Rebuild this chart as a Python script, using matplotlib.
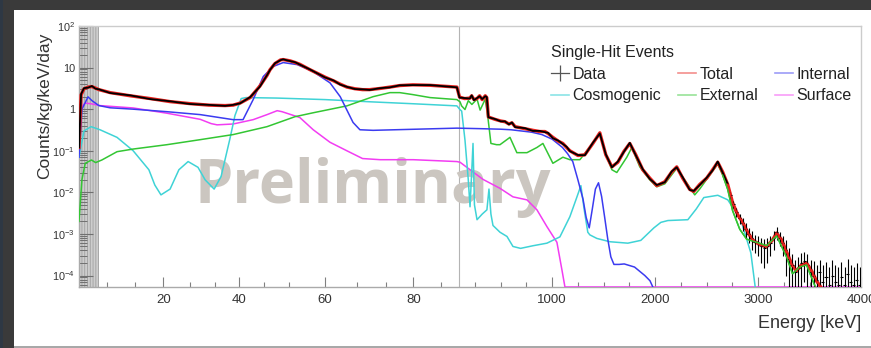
import numpy as np
import matplotlib
matplotlib.use('Agg')
import matplotlib.pyplot as plt
from matplotlib.lines import Line2D
from matplotlib.patches import Rectangle

plt.rcParams['font.family'] = ['Liberation Sans', 'DejaVu Sans']
plt.rcParams['mathtext.fontset'] = 'custom'
plt.rcParams['mathtext.rm'] = 'Liberation Sans'
plt.rcParams['mathtext.it'] = 'Liberation Sans:italic'
plt.rcParams['hatch.linewidth'] = 0.6

# ---- spectra (energy in keV, counts/kg/keV/day) ----
spec_e = [0, 0.5, 1.2, 2.2, 3.1, 4.0, 4.8, 7.5, 12.2, 16.9, 21.7, 26.7, 31.7, 36.1, 38.3,
          40.2, 42.9, 45.5, 47.4, 48.2, 49.5, 51.0, 51.7, 53.5, 54.4, 55.3, 57.2, 60.0,
          61.8, 63.2, 64.6, 66.3, 68.0, 69.6, 72.0, 74.3, 76.7, 79.9, 84.1, 89.7,
          100, 150, 200, 218, 240, 270, 295, 320, 350, 365, 380, 444, 500, 541, 580, 609,
          640, 735, 813, 880, 930, 960, 1007, 1060, 1104, 1140, 1172, 1250, 1317, 1395,
          1463, 1521, 1580, 1638, 1696, 1754, 1812, 1880, 1948, 2016, 2094, 2162, 2210,
          2268, 2336, 2375, 2433, 2501, 2559, 2608, 2656, 2705, 2753, 2802, 2850, 2899,
          2947, 3015, 3083, 3141, 3180, 3229, 3277, 3335, 3374, 3423, 3471, 3520, 3568,
          3617, 3640]
total_v = [0.12, 2.2, 3.1, 3.4, 3.5, 3.2, 2.95, 2.5, 2.1, 1.8, 1.52, 1.36, 1.25, 1.22, 1.25,
           1.4, 1.9, 3.6, 6.5, 8.9, 12.5, 15.3, 15.6, 14.5, 13.3, 12.0, 8.9, 5.9,
           4.8, 4.0, 3.4, 3.1, 2.95, 2.95, 3.15, 3.4, 3.7, 3.85, 3.75, 3.4,
           1.95, 1.8, 1.85, 2.1, 1.7, 1.8, 2.1, 1.7, 2.1, 1.9, 0.65, 0.57, 0.52, 0.5, 0.44, 0.47,
           0.38, 0.34, 0.31, 0.29, 0.29, 0.26, 0.21, 0.17, 0.15, 0.12, 0.10, 0.077, 0.08, 0.15,
           0.27, 0.08, 0.041, 0.053, 0.096, 0.15, 0.08, 0.035, 0.022, 0.0145, 0.018, 0.031, 0.041,
           0.022, 0.0118, 0.0105, 0.0155, 0.022, 0.035, 0.053, 0.031, 0.0155, 0.0056, 0.0029,
           0.0019, 0.0011, 0.00072, 0.00055, 0.00049, 0.00072, 0.00105, 0.00072, 0.00037,
           0.00017, 0.00013, 0.00018, 0.0002, 0.00013, 7.4e-5, 5.0e-5, 3e-5]
data_v = [0.12, 2.3, 3.2, 3.3, 3.6, 3.1, 3.0, 2.45, 2.15, 1.75, 1.55, 1.33, 1.27, 1.2, 1.27,
          1.38, 1.95, 3.5, 6.6, 8.8, 12.7, 15.1, 15.8, 14.3, 13.5, 11.8, 9.0, 5.8,
          4.9, 3.9, 3.45, 3.05, 3.0, 2.9, 3.2, 3.35, 3.75, 3.8, 3.8, 3.35,
          1.9, 1.85, 1.8, 2.15, 1.65, 1.85, 2.05, 1.75, 2.05, 1.95, 0.64, 0.58, 0.51, 0.51, 0.43, 0.48,
          0.37, 0.35, 0.30, 0.30, 0.28, 0.27, 0.20, 0.175, 0.145, 0.125, 0.098, 0.079, 0.078, 0.155,
          0.26, 0.082, 0.040, 0.055, 0.094, 0.155, 0.078, 0.036, 0.021, 0.015, 0.0175, 0.032, 0.040,
          0.023, 0.0115, 0.0108, 0.015, 0.0225, 0.034, 0.055, 0.030, 0.016]

tail_e = [2730, 2760, 2790, 2820, 2850, 2880, 2910, 2940, 2970, 3000, 3030, 3060, 3090, 3120,
          3150, 3180, 3210, 3240, 3270, 3300, 3330, 3360, 3390, 3420, 3450, 3480, 3510, 3540,
          3570, 3600, 3630, 3660, 3690, 3720, 3750, 3780, 3810, 3840, 3870, 3900, 3930, 3960, 3990]
tail_v = [0.0085, 0.0052, 0.0033, 0.0024, 0.0018, 0.0013, 0.0010, 0.0008, 0.00065, 0.0006,
          0.0005, 0.00045, 0.0005, 0.0006, 0.0008, 0.0011, 0.0008, 0.0006, 0.0004, 0.00025,
          0.00018, 0.00012, 0.00015, 0.0002, 0.00022, 0.00018, 0.00012, 0.0001, 8e-5, 0.00012,
          7e-5, 9e-5, 6e-5, 0.0001, 7e-5, 6e-5, 9e-5, 6e-5, 0.00011, 7e-5, 6e-5, 8e-5, 6e-5]
tail_err = [0.0015, 0.001, 0.0008, 0.0007, 0.0006, 0.0005, 0.0004, 0.0004, 0.0003, 0.0003,
            0.0003, 0.0003, 0.0003, 0.0003, 0.0004, 0.0004, 0.0003, 0.0003, 0.0003, 0.0002,
            0.00015, 0.00012, 0.00013, 0.00015, 0.00015, 0.00015, 0.00012, 0.00012, 0.0001, 0.00012,
            0.00011, 0.00012, 0.0001, 0.00013, 0.00011, 0.0001, 0.00012, 0.0001, 0.00014, 0.00011,
            0.0001, 0.00012, 0.0001]

internal_e = [0, 0.72, 1.44, 2.17, 3.13, 4.8, 7.45, 12.9, 20.9, 29.4, 38.3, 41.0, 43.7, 46.4,
              49.0, 51.7, 54.8, 57.8, 61.05, 63.2, 65.9, 67.4, 70.4, 89.7,
              300, 500, 600, 800, 900, 1000, 1100, 1150, 1200, 1250, 1300, 1330, 1360, 1390,
              1420, 1450, 1480, 1510, 1540, 1570, 1600, 1650, 1700, 1800, 1900, 1950, 2000]
internal_v = [0.07, 1.0, 1.4, 1.98, 1.6, 1.22, 1.08, 1.0, 0.87, 0.74, 0.56, 0.56, 1.7, 6.1,
              10.6, 13.2, 11.8, 8.0, 4.3, 2.0, 0.48, 0.32, 0.31, 0.35,
              0.34, 0.33, 0.32, 0.28, 0.245, 0.19, 0.12, 0.085, 0.055, 0.02, 0.0068, 0.0025, 0.0014,
              0.004, 0.012, 0.017, 0.008, 0.0025, 0.00075, 0.00028, 0.000185, 0.000185, 0.00019,
              0.00016, 0.0001, 7.5e-5, 4e-5]

cosmo_e = [0, 1.2, 2.9, 5.06, 9.1, 12.9, 16.6, 18.0, 19.45, 21.7, 23.9, 26.2, 28.8, 30.7,
           33.1, 35.0, 37.4, 38.8, 40.5, 41.8, 50.0, 60.0, 70.0, 80.0, 89.7,
           104, 121, 153, 185, 202, 218, 231, 245, 270, 320, 366, 386, 405, 425, 493, 561,
           619, 693, 813, 949, 1075, 1172, 1240, 1279, 1310, 1346, 1366, 1434, 1560, 1735,
           1861, 1988, 2056, 2124, 2318, 2400, 2473, 2609, 2706, 2832, 2930, 2985]
cosmo_v = [0.07, 0.3, 0.38, 0.32, 0.21, 0.1, 0.035, 0.015, 0.0087, 0.012, 0.035, 0.055, 0.04,
           0.02, 0.012, 0.024, 0.19, 0.7, 1.8, 1.9, 1.85, 1.7, 1.5, 1.35, 1.2,
           0.98, 0.9, 0.18, 0.02, 0.0045, 0.03, 0.15, 0.005, 0.0022, 0.003, 0.0038, 0.012, 0.003,
           0.0016, 0.0011, 0.00087, 0.0005, 0.00045, 0.00052, 0.0006, 0.00085, 0.0026, 0.0077,
           0.0145, 0.004, 0.0011, 0.00095, 0.00078, 0.00065, 0.0006, 0.0007, 0.0014, 0.0019,
           0.0021, 0.0022, 0.004, 0.0075, 0.0085, 0.0066, 0.0022, 0.00035, 3e-5]

external_e = [0, 0.7, 1.5, 3.0, 4.0, 5.5, 9.1, 12.9, 20.9, 29.4, 38.3, 47.4, 54.4, 57.8, 64.6,
              70.4, 74.3, 76.7, 79.9, 84.1, 89.7,
              105, 120, 153, 185, 220, 270, 300, 350, 376, 405, 460, 493, 590, 657, 755, 852,
              910, 1007, 1104, 1172, 1269, 1395, 1463, 1531, 1580, 1628, 1725, 1774, 1851, 1948,
              2016, 2094, 2210, 2385, 2433, 2608, 2656, 2705, 2753, 2822, 2889, 2986, 3083, 3180,
              3277, 3335, 3403, 3471, 3529, 3578]
external_v = [0.002, 0.02, 0.05, 0.06, 0.052, 0.06, 0.095, 0.11, 0.14, 0.185, 0.245, 0.38, 0.66,
              0.82, 1.2, 2.0, 2.5, 2.5, 2.24, 1.9, 1.7,
              1.5, 1.2, 0.98, 1.6, 1.3, 1.75, 0.95, 1.75, 0.62, 0.15, 0.14, 0.14, 0.21, 0.09, 0.09,
              0.12, 0.15, 0.05, 0.07, 0.061, 0.061, 0.15, 0.27, 0.07, 0.035, 0.03, 0.07, 0.12, 0.041,
              0.02, 0.0136, 0.016, 0.038, 0.0087, 0.012, 0.048, 0.026, 0.0118, 0.0036, 0.0013,
              0.00075, 0.00063, 0.00052, 0.0009, 0.00028, 0.00011, 0.00016, 0.00018, 7.8e-5, 4e-5]

surface_e = [0, 0.72, 1.44, 2.9, 5.06, 12.9, 20.9, 29.4, 32.3, 33.9, 38.3, 43.7, 47.4, 50.1,
             51.4, 55.3, 57.8, 61.05, 64.6, 68.0, 72.0, 80.0, 89.7,
             105, 202, 328, 493, 619, 755, 852, 949, 1046, 1094, 1124, 4000]
surface_v = [0.3, 1.15, 1.4, 1.35, 1.22, 1.07, 0.8, 0.57, 0.45, 0.42, 0.44, 0.56, 0.74, 0.92,
             0.87, 0.63, 0.32, 0.16, 0.1, 0.065, 0.061, 0.061, 0.055,
             0.053, 0.035, 0.0205, 0.0125, 0.0078, 0.0066, 0.0038, 0.0015, 0.00063, 0.00014,
             5.3e-5, 5.3e-5]

major_ticks = [20, 40, 60, 80, 1000, 2000, 3000, 4000]
minor_ticks = [6.67, 13.33, 26.67, 33.33, 46.67, 53.33, 66.67, 73.33, 86.67,
               250, 500, 750, 1250, 1500, 1750, 2250, 2500, 2750, 3250, 3500, 3750]
y_ticks = [1e-4, 1e-3, 1e-2, 1e-1, 1, 10, 100]
y_labels = [r'$10^{-4}$', r'$10^{-3}$', r'$10^{-2}$', r'$10^{-1}$', '1', '10', r'$10^{2}$']

# split energy axis: 0-90 keV expanded, 90-4000 keV compressed
EA = np.array([0, 6.67, 13.33, 20, 26.67, 33.33, 40, 46.67, 53.33, 60, 66.67, 73.33,
               80, 86.67, 90, 4000])
PA = np.array([79, 106.7, 135, 163.3, 190, 215, 239.3, 264.3, 289.3, 325, 356.7, 386,
               413.3, 440.7, 458.5, 861])


def fwd(e):
    return np.interp(e, EA, PA)


def inv(p):
    return np.interp(p, PA, EA)


fig = plt.figure(figsize=(8.71, 3.48), dpi=100)
ax = fig.add_axes([79 / 871, 1 - 287 / 348, 782 / 871, 261 / 348])
ax.set_xscale('function', functions=(fwd, inv))
ax.set_yscale('log')
ax.set_xlim(0, 4000)
ax.set_ylim(5.3e-5, 100)

ax.axvspan(0, 4.8, facecolor='#cdcdcd', edgecolor='#a0a0a0', hatch='||||||', lw=0, zorder=0.5)
ax.axvline(90, color='#b4b4b4', lw=0.8, zorder=0.8)

# watermark under the curves
ax.text(372.5 / 871, 1 - 203 / 348, 'Preliminary', transform=fig.transFigure,
        family='Open Sans', weight='bold', fontsize=44, color='#cbc6c0',
        ha='center', va='baseline', zorder=1)

lw = 1.1
ax.plot(surface_e, surface_v, color='#f23cf2', lw=lw, zorder=3)
ax.plot(cosmo_e, cosmo_v, color='#3fd3d6', lw=lw, zorder=3)
ax.plot(external_e, external_v, color='#33c633', lw=lw, zorder=3)
ax.plot(internal_e, internal_v, color='#3b3bf0', lw=lw, zorder=3)
ax.plot(spec_e, total_v, color='#e8201c', lw=2.4, zorder=4)
ax.plot(spec_e[:len(data_v)], data_v, color='black', lw=1.3, zorder=5)
ax.errorbar(tail_e, tail_v, yerr=tail_err, xerr=15, fmt='none', ecolor='black',
            elinewidth=0.8, zorder=5)
ax.plot(spec_e[len(data_v) - 1:], total_v[len(data_v) - 1:], color='#e8201c', lw=1.2, zorder=6)
ax.plot(external_e[-14:], external_v[-14:], color='#33c633', lw=1.0, zorder=6)

ax.set_xticks(major_ticks)
ax.set_xticklabels([str(t) for t in major_ticks])
ax.set_xticks(minor_ticks, minor=True)
ax.set_yticks(y_ticks)
ax.set_yticklabels(y_labels)
ax.yaxis.set_minor_locator(matplotlib.ticker.LogLocator(base=10, subs=np.arange(2, 10), numticks=20))
ax.yaxis.set_minor_formatter(matplotlib.ticker.NullFormatter())

ax.tick_params(axis='x', which='major', direction='in', length=7, width=0.8,
               color='#808080', labelsize=9.5, labelcolor='#333333', pad=5)
ax.tick_params(axis='x', which='minor', direction='in', length=3.5, width=0.8, color='#808080')
ax.tick_params(axis='y', which='major', direction='in', length=10, width=0.8,
               color='#707070', labelsize=7.8, labelcolor='#333333', pad=3)
ax.tick_params(axis='y', which='minor', direction='in', length=6, width=0.7, color='#707070')
for s in ['top', 'right']:
    ax.spines[s].set_color('#cccccc')
for s in ['bottom', 'left']:
    ax.spines[s].set_color('#aaaaaa')
for s in ax.spines.values():
    s.set_linewidth(1.0)

fig.text(861 / 871, 1 - 323 / 348, 'Energy [keV]', fontsize=13, color='#333333',
         ha='right', va='center')
fig.text(45 / 871, 1 - 33 / 348, 'Counts/kg/keV/day', fontsize=12.5, color='#333333',
         rotation=90, ha='center', va='top')

handles = [
    Line2D([], [], color='#555555', lw=0.9, marker='|', markersize=12, markeredgewidth=0.9),
    Line2D([], [], color='#3fd3d6', lw=1.2, alpha=0.6),
    Line2D([], [], color='#e8201c', lw=1.2, alpha=0.5),
    Line2D([], [], color='#33c633', lw=1.2, alpha=0.5),
    Line2D([], [], color='#3b3bf0', lw=1.2, alpha=0.5),
    Line2D([], [], color='#f23cf2', lw=1.2, alpha=0.5),
]
labels = ['Data', 'Cosmogenic', 'Total', 'External', 'Internal', 'Surface']
leg = ax.legend(handles, labels, ncol=3, title='Single-Hit Events', loc='upper left',
                bbox_to_anchor=((551 - 79) / 782, (287 - 45) / 261), frameon=False,
                fontsize=11.5, title_fontsize=11.5, borderpad=0, borderaxespad=0,
                handlelength=1.1, handletextpad=0.25, columnspacing=1.05, labelspacing=0.42,
                alignment='left')
for t in leg.get_texts():
    t.set_color('#222222')
leg.get_title().set_color('#222222')

# slide frame around the canvas
fig.add_artist(Rectangle((0, 1 - 10 / 348), 1, 10 / 348, transform=fig.transFigure,
                         color='#3a3a3a', lw=0))
fig.add_artist(Rectangle((0, 0), 14 / 871, 1, transform=fig.transFigure, color='#3a3a3a', lw=0))
fig.add_artist(Rectangle((0, 0), 3 / 871, 1, transform=fig.transFigure, color='#2e3844', lw=0))
fig.add_artist(Rectangle((14 / 871, 0), 1, 2 / 348, transform=fig.transFigure,
                         color='#a8a8a8', lw=0))

fig.savefig('out.png', dpi=100)
